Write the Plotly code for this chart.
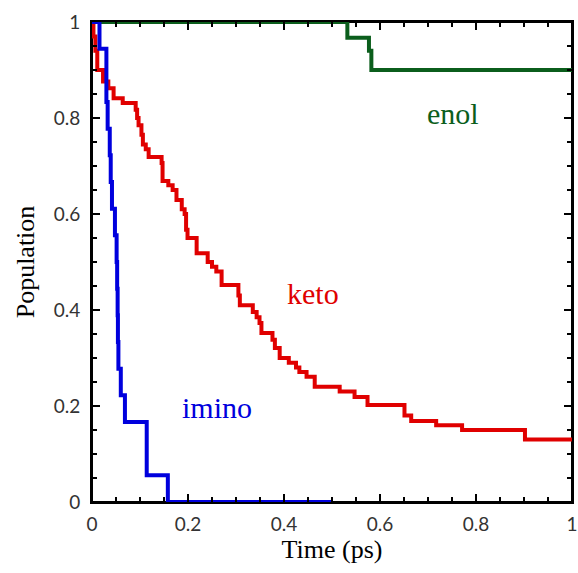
import plotly.graph_objects as go

# Data (time in ps, population)
enol_t = [0.0, 0.532, 0.577, 0.582, 1.0]
enol_y = [1.0, 0.967, 0.94, 0.90, 0.90]

keto_t = [0.0, 0.003, 0.007, 0.011, 0.023, 0.034, 0.045, 0.064, 0.091, 0.094,
          0.097, 0.103, 0.106, 0.112, 0.118, 0.145, 0.147, 0.159, 0.168, 0.176,
          0.187, 0.193, 0.196, 0.199, 0.218, 0.241, 0.250, 0.259, 0.270, 0.305,
          0.308, 0.335, 0.343, 0.349, 0.353, 0.376, 0.381, 0.391, 0.410, 0.425,
          0.432, 0.447, 0.464, 0.516, 0.547, 0.574, 0.651, 0.665, 0.717, 0.771,
          0.902, 1.0]
keto_y = [1.0, 0.97, 0.94, 0.90, 0.876, 0.862, 0.841, 0.831, 0.817, 0.80,
          0.785, 0.765, 0.745, 0.735, 0.719, 0.706, 0.669, 0.66, 0.65, 0.629,
          0.61, 0.60, 0.567, 0.55, 0.518, 0.50, 0.49, 0.48, 0.452, 0.43,
          0.41, 0.396, 0.385, 0.373, 0.352, 0.338, 0.321, 0.30, 0.29, 0.28,
          0.271, 0.261, 0.240, 0.230, 0.219, 0.202, 0.180, 0.169, 0.160, 0.150,
          0.130, 0.130]

imino_t = [0.0, 0.0156, 0.030, 0.0326, 0.037, 0.039, 0.0416, 0.0478, 0.0513,
           0.0524, 0.0534, 0.054, 0.055, 0.060, 0.0686, 0.114, 0.158, 0.5]
imino_y = [1.0, 17/18, 15/18, 14/18, 13/18, 12/18, 11/18, 10/18, 9/18,
           8/18, 7/18, 6/18, 5/18, 4/18, 3/18, 1/18, 0.0, 0.0]

labels = ["enol", "keto", "imino"]
label_x = [0.753, 0.460, 0.260]
label_y = [0.810, 0.435, 0.197]

GREEN = "#0b5e1c"
RED = "#e00000"
BLUE = "#0000dd"

fig = go.Figure()
fig.add_trace(go.Scatter(x=enol_t, y=enol_y, mode="lines", line=dict(color=GREEN, width=4, shape="hv")))
fig.add_trace(go.Scatter(x=keto_t, y=keto_y, mode="lines", line=dict(color=RED, width=4, shape="hv")))
fig.add_trace(go.Scatter(x=imino_t, y=imino_y, mode="lines", line=dict(color=BLUE, width=4, shape="hv")))

for txt, xx, yy, c in zip(labels, label_x, label_y, [GREEN, RED, BLUE]):
    fig.add_annotation(x=xx, y=yy, text=txt, showarrow=False,
                       font=dict(family="Liberation Serif", size=30, color=c))

# plot frame
fig.add_shape(type="rect", xref="x domain", yref="y domain", x0=0, x1=1, y0=0, y1=1,
              line=dict(color="black", width=2), layer="below")

axis_common = dict(
    range=[0, 1], showgrid=False, zeroline=False, automargin=False,
    showline=True, linecolor="black", linewidth=2, mirror="allticks",
    ticks="inside", ticklen=8, tickwidth=1.5, tickcolor="black",
    minor=dict(dtick=0.05, tick0=0, ticks="inside", ticklen=5, tickwidth=1.5, tickcolor="black"),
    tickfont=dict(family="Lato", size=19, color="#333333"),
    tickvals=[0, 0.2, 0.4, 0.6, 0.8, 1],
    ticktext=["0", "0.2", "0.4", "0.6", "0.8", "1"],
    ticklabeloverflow="allow",
)

fig.update_layout(
    width=578, height=573,
    margin=dict(l=92, r=6, t=22, b=71),
    plot_bgcolor="white", paper_bgcolor="white",
    showlegend=False,
    xaxis=dict(**axis_common, ticklabelstandoff=4,
               title=dict(text="Time (ps)", font=dict(family="Liberation Serif", size=26, color="black"), standoff=6)),
    yaxis=dict(**axis_common, ticklabelstandoff=6,
               title=dict(text="Population", font=dict(family="Liberation Serif", size=26, color="black"), standoff=12)),
)

fig.write_html("out.html")
